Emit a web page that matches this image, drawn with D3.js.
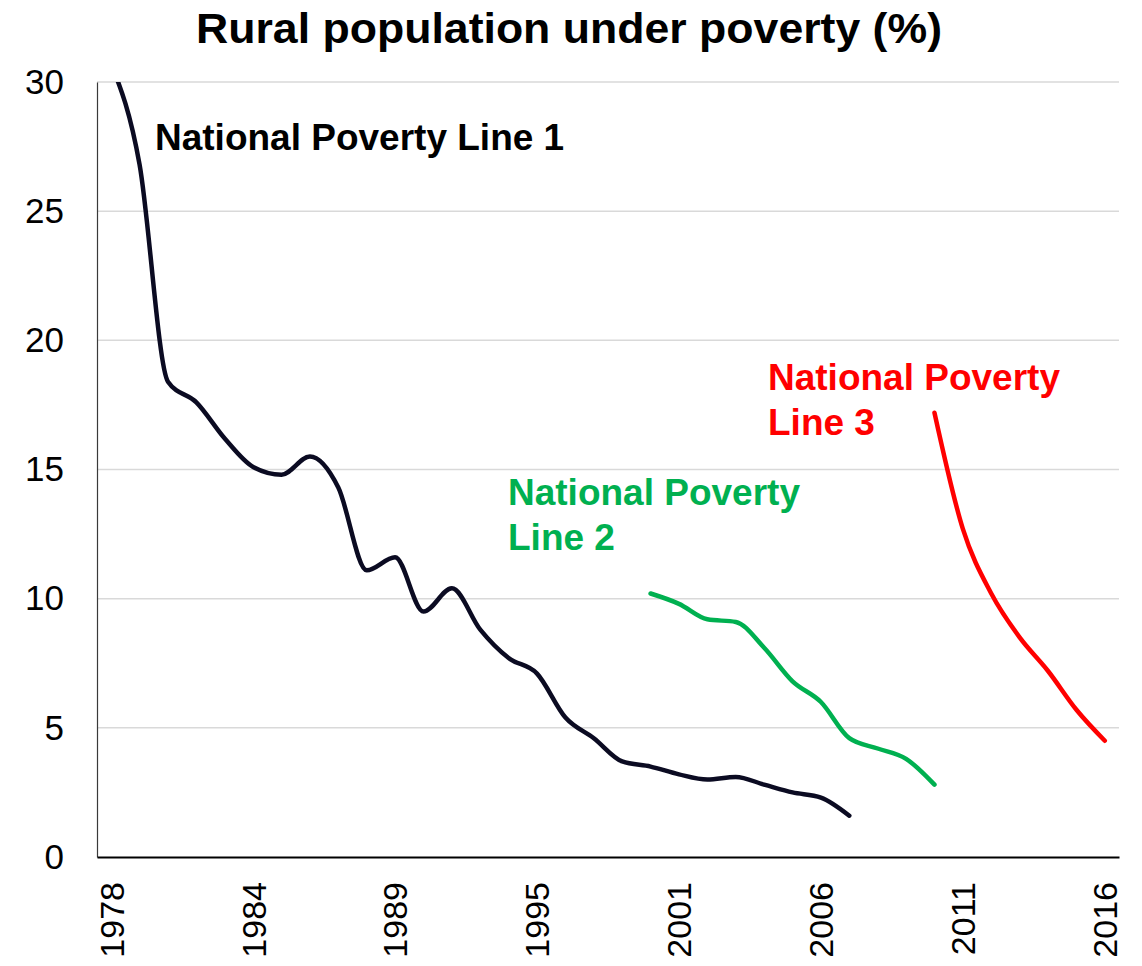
<!DOCTYPE html>
<html>
<head>
<meta charset="utf-8">
<script src="https://cdn.jsdelivr.net/npm/d3@7"></script>
<style>
  html, body { margin: 0; padding: 0; background: #fff; }
  svg { display: block; font-family: "Liberation Sans", Arial, sans-serif; }
</style>
</head>
<body>
<svg id="chart" width="1142" height="966"></svg>
<script>
// Survey years on the category axis (1979, 1993 and 1996 are not surveyed)
const years = [1978, 1980, 1981, 1982, 1983, 1984, 1985, 1986, 1987, 1988, 1989,
  1990, 1991, 1992, 1994, 1995, 1997, 1998, 1999, 2000, 2001, 2002, 2003, 2004,
  2005, 2006, 2007, 2008, 2009, 2010, 2011, 2012, 2013, 2014, 2015, 2016];

// Every fifth category carries a label
const tickYears = [1978, 1984, 1989, 1995, 2001, 2006, 2011, 2016];
const yTicks = [0, 5, 10, 15, 20, 25, 30];

// Poverty incidence (% of rural population) under each national poverty line
const line1Years = [1978, 1980, 1981, 1982, 1983, 1984, 1985, 1986, 1987, 1988, 1989,
  1990, 1991, 1992, 1994, 1995, 1997, 1998, 1999, 2000, 2001, 2002, 2003, 2004,
  2005, 2006, 2007];
const line1Values = [30.7, 26.8, 18.4, 17.6, 16.2, 15.1, 14.8, 15.5, 14.3, 11.1, 11.6,
  9.5, 10.4, 8.8, 7.7, 7.1, 5.4, 4.6, 3.7, 3.5, 3.2, 3.0, 3.1, 2.8,
  2.5, 2.3, 1.6];

const line2Years = [2000, 2001, 2002, 2003, 2004, 2005, 2006, 2007, 2008, 2009, 2010];
const line2Values = [10.2, 9.8, 9.2, 9.1, 8.1, 6.8, 6.0, 4.6, 4.2, 3.8, 2.8];

const line3Years = [2010, 2011, 2012, 2013, 2014, 2015, 2016];
const line3Values = [17.2, 12.7, 10.2, 8.5, 7.2, 5.7, 4.5];

const series = [
  { name: "National Poverty Line 1", years: line1Years, values: line1Values, color: "#0b0b22",
    label: ["National Poverty Line 1"], lx: 155, ly: 150, textColor: "#000000" },
  { name: "National Poverty Line 2", years: line2Years, values: line2Values, color: "#00b050",
    label: ["National Poverty", "Line 2"], lx: 508, ly: 505, textColor: "#00b050" },
  { name: "National Poverty Line 3", years: line3Years, values: line3Values, color: "#ff0000",
    label: ["National Poverty", "Line 3"], lx: 768, ly: 390, textColor: "#ff0000" }
];

const svg = d3.select("#chart");
const plot = { left: 97, right: 1119, top: 82, bottom: 857 };

const x = d3.scalePoint()
  .domain(years)
  .range([plot.left, plot.right])
  .padding(0.5);

const y = d3.scaleLinear()
  .domain([0, 30])
  .range([plot.bottom, plot.top]);

// Title
svg.append("text")
  .attr("x", 569)
  .attr("y", 43)
  .attr("text-anchor", "middle")
  .attr("font-size", 43)
  .attr("font-weight", "bold")
  .attr("textLength", 746)
  .attr("lengthAdjust", "spacingAndGlyphs")
  .text("Rural population under poverty (%)");

// Horizontal gridlines
svg.append("g")
  .selectAll("line")
  .data(yTicks.filter(d => d > 0))
  .join("line")
  .attr("x1", plot.left)
  .attr("x2", plot.right)
  .attr("y1", d => y(d))
  .attr("y2", d => y(d))
  .attr("stroke", "#d9d9d9")
  .attr("stroke-width", 1.5);

// Y axis
const yAxis = svg.append("g")
  .attr("transform", `translate(${plot.left},0)`)
  .call(d3.axisLeft(y).tickValues(yTicks).tickSize(0).tickPadding(33));
yAxis.select(".domain").attr("stroke", "#3a3a3a").attr("stroke-width", 1.2);
yAxis.selectAll("text")
  .attr("font-size", 35)
  .attr("font-family", "'Liberation Sans', Arial, sans-serif")
  .attr("fill", "#000");

// X axis with rotated year labels
const xAxis = svg.append("g")
  .attr("transform", `translate(0,${plot.bottom})`)
  .call(d3.axisBottom(x).tickValues(tickYears).tickSize(0).tickSizeOuter(0));
xAxis.select(".domain").attr("stroke", "#000").attr("stroke-width", 2);
xAxis.selectAll("text")
  .attr("font-size", 34)
  .attr("font-family", "'Liberation Sans', Arial, sans-serif")
  .attr("fill", "#000")
  .attr("transform", "rotate(-90)")
  .attr("text-anchor", "end")
  .attr("dy", "0.35em")
  .attr("x", -25)
  .attr("y", 0);

// Clip the lines to the plotting area
svg.append("clipPath")
  .attr("id", "plot-clip")
  .append("rect")
  .attr("x", plot.left)
  .attr("y", plot.top)
  .attr("width", plot.right - plot.left)
  .attr("height", plot.bottom - plot.top);

const line = d3.line()
  .x(d => x(d.year))
  .y(d => y(d.value))
  .curve(d3.curveMonotoneX);

const lines = svg.append("g").attr("clip-path", "url(#plot-clip)");
series.forEach(s => {
  const pts = s.years.map((yr, i) => ({ year: yr, value: s.values[i] }));
  lines.append("path")
    .datum(pts)
    .attr("fill", "none")
    .attr("stroke", s.color)
    .attr("stroke-width", 4.5)
    .attr("stroke-linecap", "round")
    .attr("stroke-linejoin", "round")
    .attr("d", line);
});

// Series labels
series.forEach(s => {
  const t = svg.append("text")
    .attr("x", s.lx)
    .attr("y", s.ly)
    .attr("font-size", 37)
    .attr("font-weight", "bold")
    .attr("fill", s.textColor);
  s.label.forEach((txt, i) => {
    t.append("tspan")
      .attr("x", s.lx)
      .attr("dy", i === 0 ? 0 : 45)
      .text(txt);
  });
});
</script>
</body>
</html>
